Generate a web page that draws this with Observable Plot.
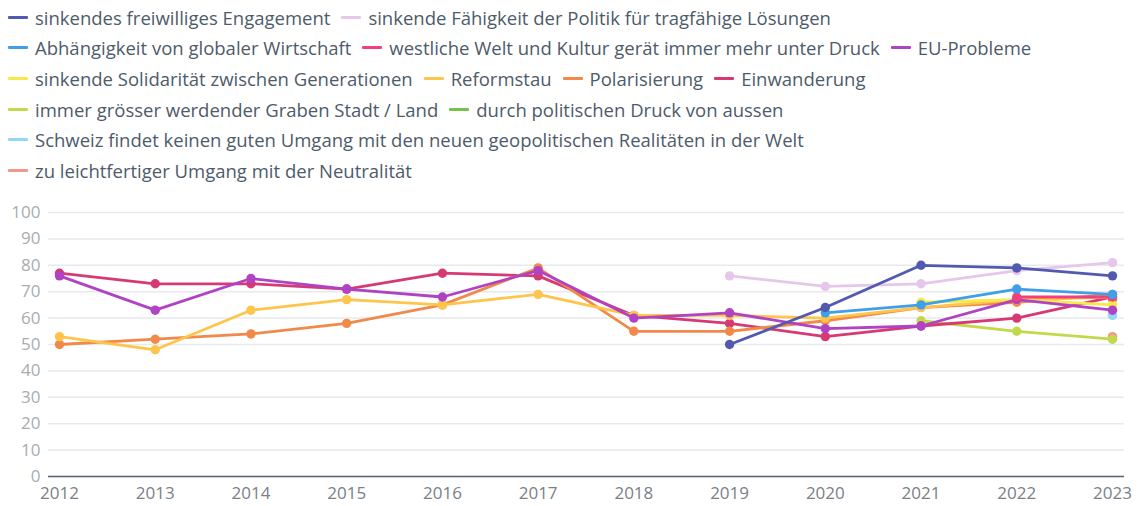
<!DOCTYPE html>
<html>
<head>
<meta charset="utf-8">
<script src="https://cdn.jsdelivr.net/npm/d3@7"></script>
<script src="https://cdn.jsdelivr.net/npm/@observablehq/plot@0.6"></script>
<style>
  html, body { margin: 0; padding: 0; background: #fff; }
  body { width: 1140px; height: 506px; overflow: hidden; font-family: "Open Sans", Lato, sans-serif; }
  #legend { height: 190px; box-sizing: border-box; padding: 2px 0 0 8px; display: flex; flex-wrap: wrap; align-content: flex-start; width: 1130px; }
  .item { display: flex; align-items: center; height: 30.6px; margin-right: 11px; font-size: 18.5px; color: #4d5b6a; white-space: nowrap; }
  .sw { width: 20px; height: 3px; border-radius: 1px; margin-right: 7px; }
  #chart svg { display: block; }
</style>
</head>
<body>
<div id="legend"></div>
<div id="chart"></div>
<script>
const years = [2012, 2013, 2014, 2015, 2016, 2017, 2018, 2019, 2020, 2021, 2022, 2023];

const seriesNames = [
  "sinkendes freiwilliges Engagement",
  "sinkende Fähigkeit der Politik für tragfähige Lösungen",
  "Abhängigkeit von globaler Wirtschaft",
  "westliche Welt und Kultur gerät immer mehr unter Druck",
  "EU-Probleme",
  "sinkende Solidarität zwischen Generationen",
  "Reformstau",
  "Polarisierung",
  "Einwanderung",
  "immer grösser werdender Graben Stadt / Land",
  "durch politischen Druck von aussen",
  "Schweiz findet keinen guten Umgang mit den neuen geopolitischen Realitäten in der Welt",
  "zu leichtfertiger Umgang mit der Neutralität"
];

const seriesColors = [
  "#5159b0", "#e7c6eb", "#3f9fe8", "#f2407a", "#b043c4", "#f8e84a",
  "#fdc54c", "#f1894a", "#d53a74", "#c3d94b", "#79c049", "#92d7f7", "#f19790"
];

const engagement    = [null, null, null, null, null, null, null, 50, 64, 80, 79, 76];
const faehigkeit    = [null, null, null, null, null, null, null, 76, 72, 73, 78, 81];
const abhaengigkeit = [null, null, null, null, null, null, null, null, 62, 65, 71, 69];
const westlich      = [null, null, null, null, null, null, null, null, null, null, 68, 68];
const euProbleme    = [76, 63, 75, 71, 68, 78, 60, 62, 56, 57, 67, 63];
const solidaritaet  = [null, null, null, null, null, null, null, null, null, 66, 67, 65];
const reformstau    = [53, 48, 63, 67, 65, 69, 61, 61, 60, 64, 67, 68];
const polarisierung = [50, 52, 54, 58, 65, 79, 55, 55, 59, 64, 66, 69];
const einwanderung  = [77, 73, 73, 71, 77, 76, 61, 58, 53, 57, 60, 68];
const graben        = [null, null, null, null, null, null, null, null, null, 59, 55, 52];
const druck         = [null, null, null, null, null, null, null, null, null, null, null, 67];
const schweiz       = [null, null, null, null, null, null, null, null, null, null, null, 61];
const neutralitaet  = [null, null, null, null, null, null, null, null, null, null, null, 53];

const yTicks = [0, 10, 20, 30, 40, 50, 60, 70, 80, 90, 100];

const seriesValues = [engagement, faehigkeit, abhaengigkeit, westlich, euProbleme, solidaritaet,
  reformstau, polarisierung, einwanderung, graben, druck, schweiz, neutralitaet];

// legend
const legend = document.getElementById("legend");
seriesNames.forEach((name, i) => {
  const it = document.createElement("div");
  it.className = "item";
  const sw = document.createElement("span");
  sw.className = "sw";
  sw.style.background = seriesColors[i];
  const tx = document.createElement("span");
  tx.textContent = name;
  it.appendChild(sw);
  it.appendChild(tx);
  legend.appendChild(it);
});

const tables = seriesNames.map((name, i) =>
  years.map((year, j) => ({series: name, year, value: seriesValues[i][j]}))
       .filter(d => d.value != null)
);

const seriesMarks = [];
for (let i = tables.length - 1; i >= 0; i--) {
  seriesMarks.push(Plot.line(tables[i], {x: "year", y: "value", stroke: "series", strokeWidth: 2.8, strokeLinejoin: "round", strokeLinecap: "round"}));
  seriesMarks.push(Plot.dot(tables[i], {x: "year", y: "value", fill: "series", r: 4.7}));
}

const chart = Plot.plot({
  width: 1140,
  height: 316,
  marginLeft: 48,
  marginRight: 16,
  marginTop: 22,
  marginBottom: 30,
  style: {fontFamily: "'Open Sans', Lato, sans-serif", background: "#fff"},
  x: {type: "linear", domain: [2012, 2023], insetLeft: 11, insetRight: 12, label: null},
  y: {domain: [0, 100], label: null},
  color: {domain: seriesNames, range: seriesColors},
  marks: [
    Plot.gridY(yTicks, {stroke: "#e7e9ec", strokeOpacity: 1, strokeWidth: 1.5}),
    Plot.axisY(yTicks, {tickSize: 0, tickPadding: 8, fontSize: 17, fill: "#a7acb2", tickFormat: d => String(d), label: null}),
    Plot.axisX(years, {tickSize: 0, tickPadding: 10, fontSize: 17, fill: "#7a8088", tickFormat: d => String(d), label: null}),
    Plot.ruleY([0], {stroke: "#56657a", strokeWidth: 1.5}),
    ...seriesMarks
  ]
});
document.getElementById("chart").appendChild(chart);
</script>
</body>
</html>
